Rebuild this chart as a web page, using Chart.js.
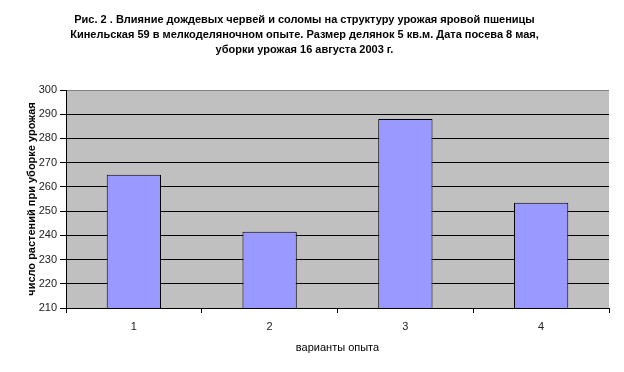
<!DOCTYPE html>
<html>
<head>
<meta charset="utf-8">
<script src="https://cdn.jsdelivr.net/npm/chart.js@4"></script>
<style>
  html, body { margin: 0; padding: 0; background: #fff; }
  #wrap { width: 624px; height: 372px; position: relative; }
</style>
</head>
<body>
<div id="wrap"><canvas id="c" width="624" height="372"></canvas></div>
<script>
const titleLines = [
  "Рис. 2 . Влияние дождевых червей и соломы на структуру урожая яровой пшеницы",
  "Кинельская 59 в мелкоделяночном опыте. Размер делянок 5 кв.м. Дата посева 8 мая,",
  "уборки урожая 16 августа 2003 г."
];
const categories = ["1", "2", "3", "4"];
const plantCounts = [265, 241.5, 288, 253.5];
const yTitle = "число растений при уборке урожая";
const xTitle = "варианты опыта";
const yMin = 210, yMax = 300, yStep = 10;

const plotBg = {
  id: 'plotBg',
  beforeDraw(chart) {
    const {ctx, chartArea: a} = chart;
    ctx.save();
    ctx.fillStyle = '#C0C0C0';
    ctx.fillRect(a.left, a.top, a.right - a.left, a.bottom - a.top);
    ctx.restore();
  }
};

const font = "'Liberation Sans', Arial, sans-serif";

new Chart(document.getElementById('c'), {
  type: 'bar',
  data: {
    labels: categories,
    datasets: [{
      data: plantCounts,
      backgroundColor: '#9999FF',
      borderColor: '#000000',
      borderWidth: 1,
      barPercentage: 0.4,
      categoryPercentage: 1.0
    }]
  },
  options: {
    responsive: false,
    animation: false,
    layout: { padding: { left: 0, right: 15, top: 0, bottom: 0 } },
    plugins: {
      legend: { display: false },
      tooltip: { enabled: false },
      title: {
        display: true,
        text: titleLines,
        color: '#000',
        font: { family: font, size: 11, weight: 'bold', lineHeight: 15 / 11 },
        padding: { top: 12.5, bottom: 32.5 }
      }
    },
    scales: {
      x: {
        afterFit(s) { s.height = 64; },
        grid: {
          offset: true,
          drawOnChartArea: true,
          color: (ctx) => ctx.index === categories.length ? '#808080' : 'rgba(0,0,0,0)',
          tickColor: '#000',
          tickLength: 5,
          lineWidth: 1
        },
        border: { color: '#000', width: 1 },
        ticks: {
          color: '#222',
          font: { family: font, size: 11 },
          padding: 7
        },
        title: {
          display: true,
          text: xTitle,
          color: '#000',
          font: { family: font, size: 11 },
          padding: { top: 0, bottom: 17.5 }
        }
      },
      y: {
        min: yMin,
        max: yMax,
        afterFit(s) { s.width = 66; },
        grid: {
          color: (ctx) => ctx.tick && ctx.tick.value === yMax ? '#808080' : '#000',
          tickColor: '#000',
          tickLength: 6,
          lineWidth: 1
        },
        border: { color: '#000', width: 1 },
        ticks: {
          stepSize: yStep,
          color: '#222',
          font: { family: font, size: 11 },
          padding: 3
        },
        title: {
          display: true,
          text: yTitle,
          color: '#000',
          font: { family: font, size: 11, weight: 'bold' },
          padding: { top: 25.5, bottom: 0 }
        }
      }
    }
  },
  plugins: [plotBg]
});
</script>
</body>
</html>
